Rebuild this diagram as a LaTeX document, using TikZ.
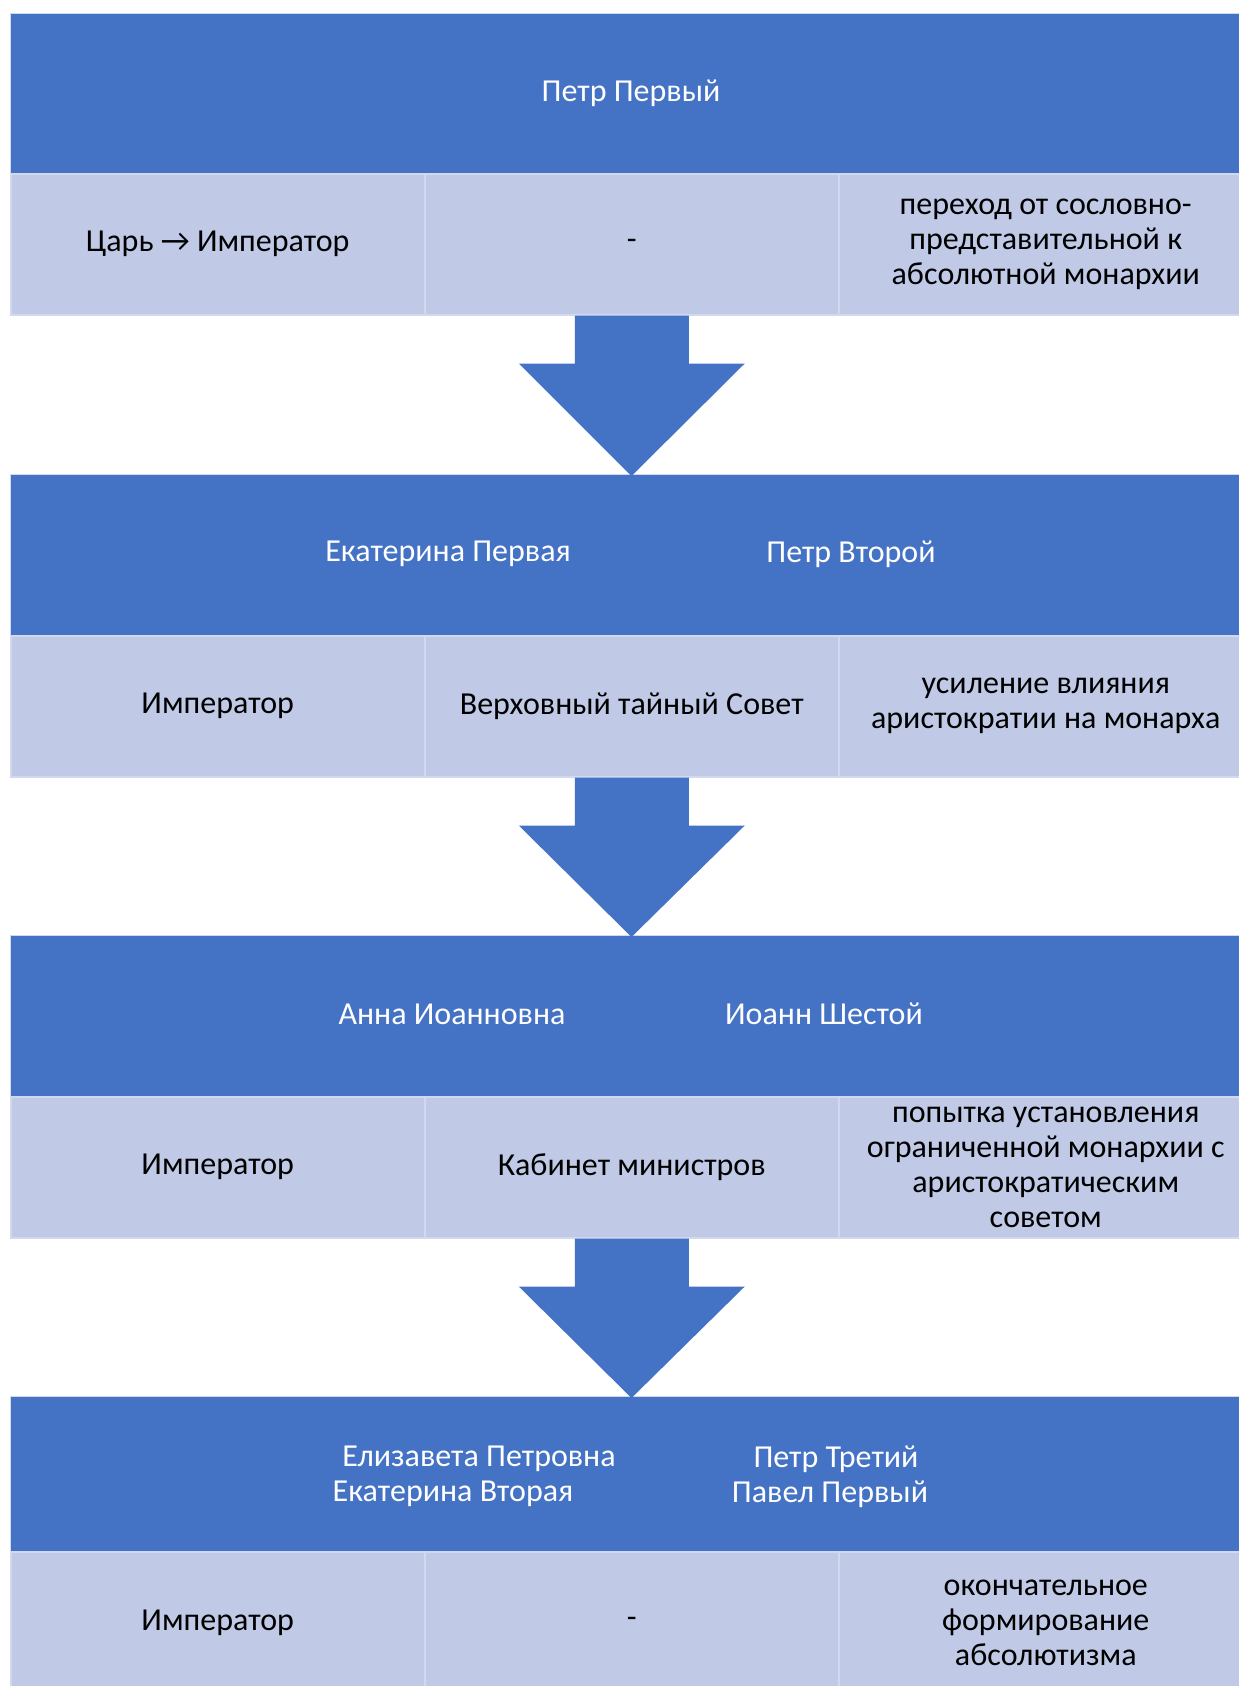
\documentclass[tikz,border=0pt]{standalone}
\usepackage{fontspec}
\setmainfont{Carlito}
\usetikzlibrary{calc}
\definecolor{hdrblue}{HTML}{4472C4}
\definecolor{celllight}{HTML}{C0CAE6}
\definecolor{celledge}{HTML}{D2D9EE}
\tikzset{
  hdr/.style={fill=hdrblue, draw=celledge, line width=1pt, anchor=north west, minimum width=1242pt, inner sep=0pt},
  hdrtext/.style={text=white, inner sep=0pt, font=\fontsize{32}{35}\selectfont},
  cellbox/.style={fill=celllight, draw=celledge, line width=1.5pt, anchor=north west, minimum width=414pt, inner sep=0pt, align=center, text=black, font=\fontsize{32}{35}\selectfont},
  bigarrow/.style={fill=hdrblue, draw=none}
}
\newcommand{\flowarrow}[2]{%
  \fill[bigarrow] ($(#1.south)+(-57pt,0)$) -- ($(#1.south)+(57pt,0)$) -- ($(#1.south)+(57pt,-48pt)$) -- ($(#1.south)+(113pt,-48pt)$) -- ($(#2.north)+(0,-2pt)$) -- ($(#1.south)+(-113pt,-48pt)$) -- ($(#1.south)+(-57pt,-48pt)$) -- cycle;}
\begin{document}
\begin{tikzpicture}[x=1pt,y=1pt]
\useasboundingbox (0,0) rectangle (1239,-1686);
\fill[white] (0,0) rectangle (1239,-1686);
\clip (0,0) rectangle (1239,-1686);
% block 1
\node[hdr, minimum height=160pt] (h1) at (10,-13) {};
\node[hdrtext] (h1a) at (631,-93) {Петр Первый};
\node[cellbox, minimum height=141pt] (c11) at (10,-173) {Царь → Император};
\node[cellbox, minimum height=141pt] (c12) at (424,-173) {-};
\node[cellbox, minimum height=141pt] (c13) at (838,-173) {переход от сословно-\\представительной к\\абсолютной монархии};
% block 2
\node[hdr, minimum height=161pt] (h2) at (10,-474) {};
\node[hdrtext] (h2a) at (448,-554) {Екатерина Первая};
\node[hdrtext] (h2b) at (851,-554) {Петр Второй};
\node[cellbox, minimum height=141pt] (c21) at (10,-635) {Император};
\node[cellbox, minimum height=141pt] (c22) at (424,-635) {Верховный тайный Совет};
\node[cellbox, minimum height=141pt] (c23) at (838,-635) {усиление влияния\\аристократии на монарха};
% block 3
\node[hdr, minimum height=161pt] (h3) at (10,-935) {};
\node[hdrtext] (h3a) at (452,-1014) {Анна Иоанновна};
\node[hdrtext] (h3b) at (824,-1014) {Иоанн Шестой};
\node[cellbox, minimum height=141pt] (c31) at (10,-1096) {Император};
\node[cellbox, minimum height=141pt] (c32) at (424,-1096) {Кабинет министров};
\node[cellbox, minimum height=141pt] (c33) at (838,-1096) {попытка установления\\ограниченной монархии с\\аристократическим\\советом};
% block 4
\node[hdr, minimum height=155pt] (h4) at (10,-1396) {};
\node[hdrtext] (h4a) at (479,-1459) {Елизавета Петровна};
\node[hdrtext] (h4b) at (453,-1494) {Екатерина Вторая};
\node[hdrtext] (h4c) at (836,-1459) {Петр Третий};
\node[hdrtext] (h4d) at (830,-1494) {Павел Первый};
\node[cellbox, minimum height=142pt] (c41) at (10,-1551) {Император};
\node[cellbox, minimum height=142pt] (c42) at (424,-1551) {-};
\node[cellbox, minimum height=142pt] (c43) at (838,-1551) {окончательное\\формирование\\абсолютизма};
% arrows
\flowarrow{c12}{h2}
\flowarrow{c22}{h3}
\flowarrow{c32}{h4}
\end{tikzpicture}
\end{document}
